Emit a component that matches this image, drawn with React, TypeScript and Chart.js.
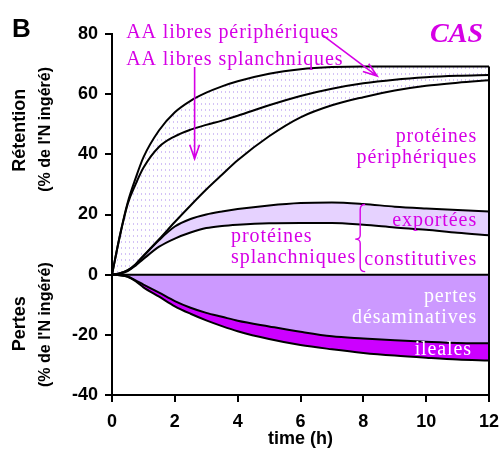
import React, { useEffect, useRef } from 'react';
import { Chart, registerables } from 'chart.js';

Chart.register(...registerables);

// ---- data (time in h, % of ingested N) ----
const time = [0, 0.25, 0.5, 0.75, 1, 1.5, 2, 2.5, 3, 3.5, 4, 5, 6, 7, 8, 9, 10, 11, 12];
const aaPeripheralTop = [0, 13, 24, 32, 39, 48, 54, 57.8, 60.5, 62.6, 64.3, 66.8, 68.3, 69, 69.2, 69.2, 69.2, 69.2, 69.2];
const aaSplanchnicTop = [0, 12.8, 23.5, 30, 35.5, 42.5, 46, 48.2, 49.8, 51.2, 52.8, 56.3, 59.4, 61.8, 63.6, 64.8, 65.6, 66.1, 66.4];
const peripheralProteinTop = [0, 0.5, 1.5, 3.5, 6.3, 11.8, 17.5, 23, 28.3, 33.2, 38, 46, 52.3, 56.3, 59, 61.2, 62.8, 63.8, 64.6];
const exportedTop = [0, 0.4, 1.4, 3.3, 6.1, 11.5, 16, 18.5, 20, 21, 21.8, 23, 23.8, 24, 23.5, 22.6, 22, 21.5, 21];
const constitutiveTop = [0, 0.3, 1.2, 3, 5.2, 9.3, 12, 14, 15.5, 16.2, 16.6, 17.1, 17.2, 17.2, 16.6, 15.7, 14.9, 13.9, 13.1];
const zeroLine = [0, 0, 0, 0, 0, 0, 0, 0, 0, 0, 0, 0, 0, 0, 0, 0, 0, 0, 0];
const deaminationBottom = [0, -0.2, -0.6, -1.9, -3.3, -6, -8.8, -11, -12.7, -14, -15.3, -17.2, -19, -20.5, -21.2, -21.8, -22.3, -22.7, -22.8];
const ilealBottom = [0, -0.2, -0.7, -2.2, -4.2, -7.3, -10.5, -13, -15.2, -17.1, -18.8, -21.4, -23.4, -24.8, -26, -26.9, -27.6, -28.2, -28.5];

const xTicks = [0, 2, 4, 6, 8, 10, 12];
const yTicks = [-40, -20, 0, 20, 40, 60, 80];

const MAG = '#d600e6';
const SANS = '"Liberation Sans", Arial, sans-serif';
const SERIF = '"Liberation Serif", "Times New Roman", serif';

const pts = (ys: number[]) => time.map((t, i) => ({ x: t, y: ys[i] }));

function makeDots(): CanvasPattern | string {
  const c = document.createElement('canvas');
  c.width = 4;
  c.height = 6;
  const g = c.getContext('2d');
  if (!g) return 'rgba(200,184,238,0.3)';
  g.fillStyle = '#ffffff';
  g.fillRect(0, 0, 4, 6);
  g.fillStyle = '#d3c2f6';
  g.fillRect(1, 1, 1, 2);
  return g.createPattern(c, 'repeat') as CanvasPattern;
}

function text(ctx: CanvasRenderingContext2D, s: string, x: number, y: number, font: string, color: string, align: CanvasTextAlign, spacing = '0px') {
  ctx.save();
  ctx.font = font;
  ctx.fillStyle = color;
  ctx.textAlign = align;
  ctx.textBaseline = 'alphabetic';
  (ctx as any).letterSpacing = spacing;
  ctx.fillText(s, x, y);
  ctx.restore();
}

function vtext(ctx: CanvasRenderingContext2D, s: string, x: number, y: number, font: string) {
  ctx.save();
  ctx.translate(x, y);
  ctx.rotate(-Math.PI / 2);
  ctx.font = font;
  ctx.fillStyle = '#000';
  ctx.textAlign = 'center';
  ctx.textBaseline = 'middle';
  ctx.fillText(s, 0, 0);
  ctx.restore();
}

function arrow(ctx: CanvasRenderingContext2D, x1: number, y1: number, x2: number, y2: number) {
  const a = Math.atan2(y2 - y1, x2 - x1);
  const L = 15;
  const h = 0.33;
  ctx.save();
  ctx.strokeStyle = MAG;
  ctx.lineWidth = 1.6;
  ctx.beginPath();
  ctx.moveTo(x1, y1);
  ctx.lineTo(x2, y2);
  ctx.moveTo(x2 - L * Math.cos(a - h), y2 - L * Math.sin(a - h));
  ctx.lineTo(x2, y2);
  ctx.lineTo(x2 - L * Math.cos(a + h), y2 - L * Math.sin(a + h));
  ctx.stroke();
  ctx.restore();
}

const decorations = {
  id: 'decorations',
  afterDatasetsDraw(chart: any) {
    const ctx: CanvasRenderingContext2D = chart.ctx;
    const xs = chart.scales.x;
    const ys = chart.scales.y;
    const X = (v: number) => xs.getPixelForValue(v);
    const Y = (v: number) => ys.getPixelForValue(v);

    // right border of the plotted block
    ctx.save();
    ctx.strokeStyle = '#000';
    ctx.lineWidth = 2;
    ctx.beginPath();
    ctx.moveTo(X(12), Y(-40));
    ctx.lineTo(X(12), Y(aaPeripheralTop[aaPeripheralTop.length - 1]));
    ctx.stroke();
    ctx.restore();

    const serif = `20px ${SERIF}`;
    const sp = '0.9px';
    text(ctx, 'AA libres périphériques', X(0.45), Y(78.7), serif, MAG, 'left', sp);
    text(ctx, 'AA libres splanchniques', X(0.45), Y(69.8), serif, MAG, 'left', sp);
    arrow(ctx, X(2.63), Y(69), X(2.63), Y(38.5));
    arrow(ctx, X(6.69), Y(79.7), X(8.44), Y(66));

    text(ctx, 'protéines', X(11.62), Y(44.2), serif, MAG, 'right', sp);
    text(ctx, 'périphériques', X(11.62), Y(37.2), serif, MAG, 'right', sp);
    text(ctx, 'exportées', X(11.62), Y(16.1), serif, MAG, 'right', sp);
    text(ctx, 'constitutives', X(11.62), Y(3.3), serif, MAG, 'right', sp);
    text(ctx, 'protéines', X(3.79), Y(11), serif, MAG, 'left', sp);
    text(ctx, 'splanchniques', X(3.79), Y(4), serif, MAG, 'left', sp);
    text(ctx, 'pertes', X(11.62), Y(-9), serif, '#ffffff', 'right', sp);
    text(ctx, 'désaminatives', X(11.62), Y(-16), serif, '#ffffff', 'right', sp);
    text(ctx, 'ileales', X(11.46), Y(-26.6), serif, '#ffffff', 'right', sp);

    // brace
    const xm = X(7.9);
    const yt = Y(23.3);
    const ymid = Y(11.8);
    const yb = Y(1);
    ctx.save();
    ctx.strokeStyle = MAG;
    ctx.lineWidth = 1.4;
    ctx.beginPath();
    ctx.moveTo(xm + 5, yt);
    ctx.quadraticCurveTo(xm, yt, xm, yt + 5);
    ctx.lineTo(xm, ymid - 4);
    ctx.quadraticCurveTo(xm, ymid, xm - 5, ymid);
    ctx.quadraticCurveTo(xm, ymid, xm, ymid + 4);
    ctx.lineTo(xm, yb - 5);
    ctx.quadraticCurveTo(xm, yb, xm + 5, yb);
    ctx.stroke();
    ctx.restore();
  },
  afterDraw(chart: any) {
    const ctx: CanvasRenderingContext2D = chart.ctx;
    const ys = chart.scales.y;
    const Y = (v: number) => ys.getPixelForValue(v);
    vtext(ctx, 'Rétention', 20, Y(48), `bold 18px ${SANS}`);
    vtext(ctx, "(% de l'N ingéré)", 46, Y(48.3), `bold 16px ${SANS}`);
    vtext(ctx, 'Pertes', 20, Y(-16.3), `bold 18px ${SANS}`);
    vtext(ctx, "(% de l'N ingéré)", 46, Y(-16.6), `bold 16px ${SANS}`);
    text(ctx, 'B', 12, 37, `bold 26px ${SANS}`, '#000', 'left');
    text(ctx, 'CAS', 483, 42, `italic bold 28px ${SERIF}`, MAG, 'right');
  },
};

export default function App() {
  const ref = useRef<HTMLCanvasElement | null>(null);
  useEffect(() => {
    document.body.style.margin = '0';
    const canvas = ref.current;
    if (!canvas) return;
    const dots = makeDots();
    const line = (data: number[], extra: any = {}) => ({
      data: pts(data),
      borderColor: '#000',
      borderWidth: 2,
      pointRadius: 0,
      cubicInterpolationMode: 'monotone',
      fill: false,
      ...extra,
    });
    const chart = new Chart(canvas, {
      type: 'line',
      data: {
        datasets: [
          line(aaPeripheralTop, { fill: 2, backgroundColor: dots }),
          line(aaSplanchnicTop),
          line(peripheralProteinTop),
          line(exportedTop, { fill: '+1', backgroundColor: '#e6d2ff' }),
          line(constitutiveTop),
          line(zeroLine),
          line(deaminationBottom, { fill: 'origin', backgroundColor: '#cc99ff' }),
          line(ilealBottom, { fill: '-1', backgroundColor: '#cc00ff' }),
        ] as any,
      },
      options: {
        responsive: false,
        animation: false,
        events: [],
        layout: { padding: { top: 34, right: 12, left: 0, bottom: 0 } },
        plugins: {
          legend: { display: false },
          tooltip: { enabled: false },
          filler: { drawTime: 'beforeDatasetsDraw' },
        } as any,
        scales: {
          x: {
            type: 'linear',
            min: 0,
            max: 12,
            afterFit: (s: any) => { s.height = 55; s.paddingLeft = 0; s.paddingRight = 0; },
            afterBuildTicks: (s: any) => { s.ticks = xTicks.map((v) => ({ value: v })); },
            ticks: { color: '#000', font: { family: SANS, size: 18, weight: 'bold' }, padding: 9, maxRotation: 0 },
            grid: { drawOnChartArea: false, drawTicks: true, tickLength: 7, color: '#000', lineWidth: 2 },
            border: { display: true, color: '#000', width: 2 },
            title: { display: true, text: 'time (h)', color: '#000', font: { family: SANS, size: 18, weight: 'bold' }, padding: { top: 0, bottom: 0 } },
          },
          y: {
            type: 'linear',
            min: -40,
            max: 80,
            afterFit: (s: any) => { s.width = 112; s.paddingTop = 0; s.paddingBottom = 0; },
            afterBuildTicks: (s: any) => { s.ticks = yTicks.map((v) => ({ value: v })); },
            ticks: { color: '#000', font: { family: SANS, size: 18, weight: 'bold' }, padding: 7 },
            grid: { drawOnChartArea: false, drawTicks: true, tickLength: 7, color: '#000', lineWidth: 2 },
            border: { display: true, color: '#000', width: 2 },
          },
        } as any,
      },
      plugins: [decorations],
    });
    return () => chart.destroy();
  }, []);
  return (
    <div style={{ position: 'absolute', left: 0, top: 0, width: 501, height: 450, background: '#fff' }}>
      <canvas ref={ref} width={501} height={450} style={{ display: 'block' }} />
    </div>
  );
}
